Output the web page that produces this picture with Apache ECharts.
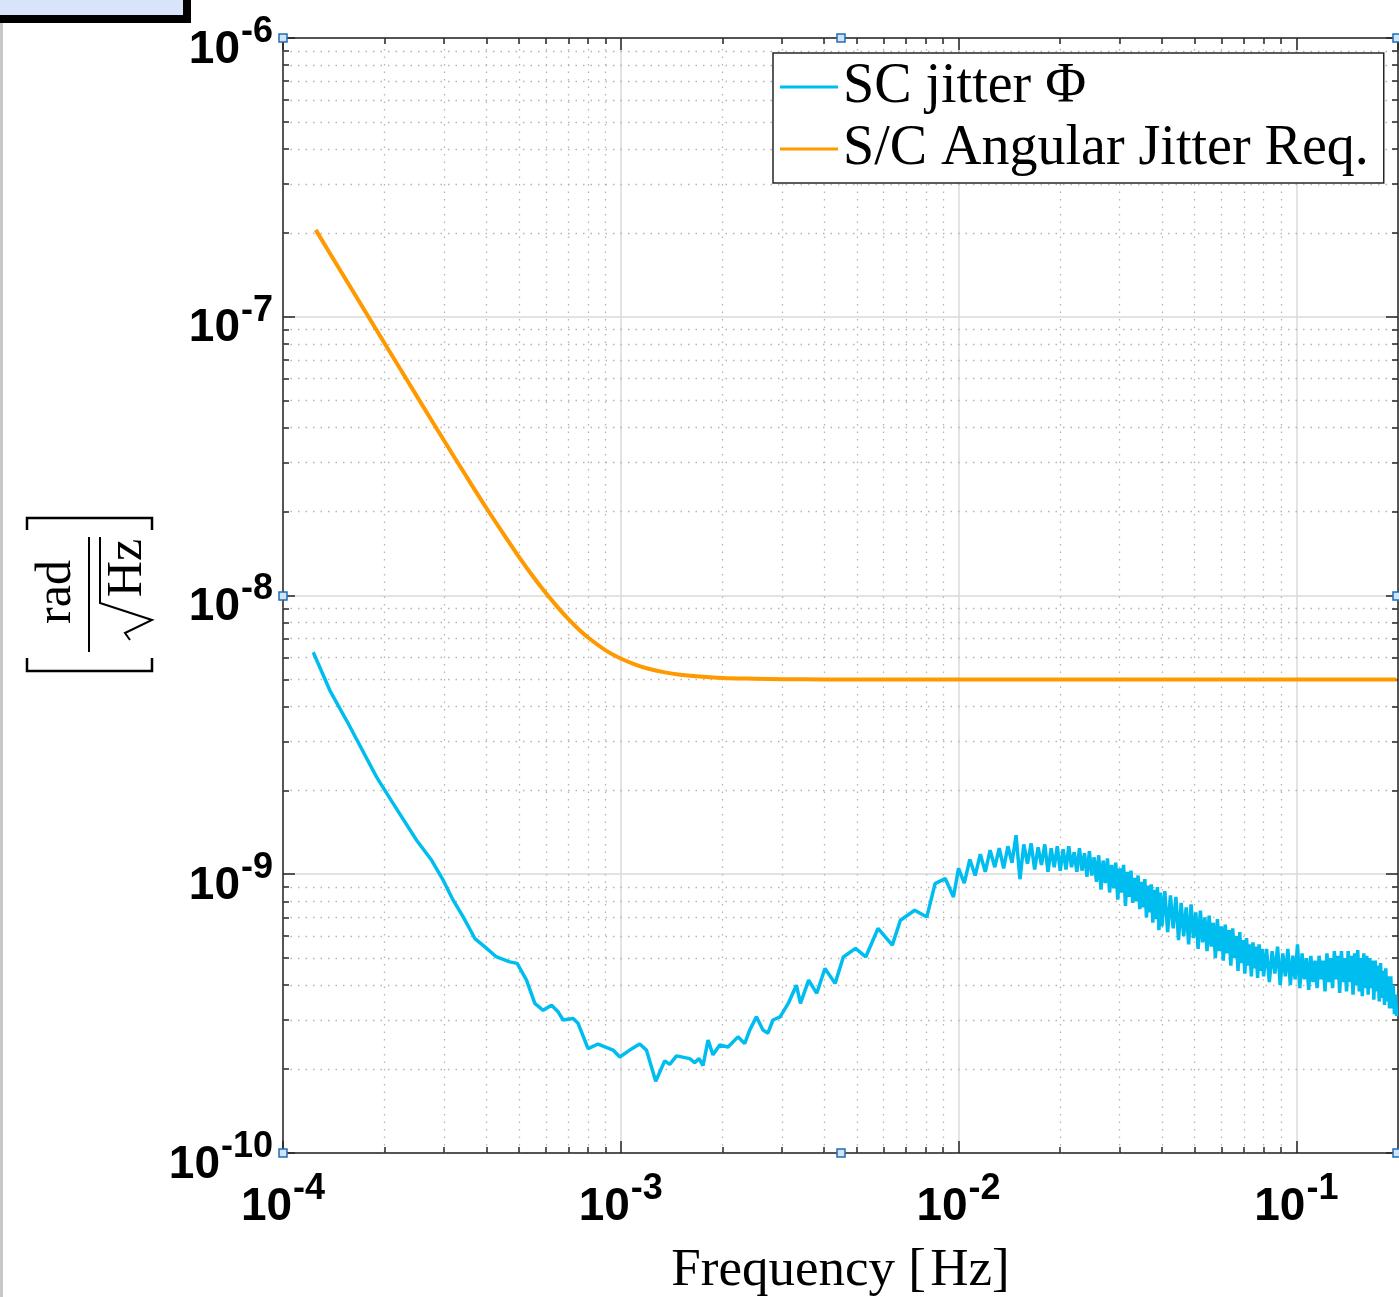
<!DOCTYPE html>
<html>
<head>
<meta charset="utf-8">
<script src="https://cdn.jsdelivr.net/npm/echarts@6/dist/echarts.min.js"></script>
<style>
  html, body { margin: 0; padding: 0; background: #fff; }
  #chart { width: 1399px; height: 1297px; }
</style>
</head>
<body>
<div id="chart"></div>
<script>
// ---------------- DATA ----------------
// SC jitter Φ : frequency in mHz, amplitude in units of 1e-10 rad/√Hz
const jitterFreq_mHz = [
  0.1229,0.1377,0.1543,0.1893,0.2120,0.2486,0.2754,0.2980,0.3190,0.3415,0.3699,0.3960,0.4288,0.4694,0.4933,0.5260,
  0.5565,0.5890,0.6237,0.6523,0.6751,0.7226,0.7474,0.8003,0.8567,0.9489,0.9932,1.063,1.138,1.191,1.269,1.349,1.396,
  1.462,1.600,1.655,1.705,1.752,1.813,1.875,1.963,2.078,2.223,2.327,2.408,2.521,2.636,2.726,2.822,2.962,3.132,3.310,
  3.404,3.599,3.804,4.022,4.311,4.559,4.955,5.311,5.774,6.366,6.727,7.417,8.057,8.521,9.134,9.659,
  10.0,10.4,10.8,11.2,11.6,12.0,12.4,12.8,13.2,13.6,14.0,14.4,14.8,15.2,15.6,16.0,16.4,16.8,17.2,17.6,18.0,18.4,18.8,19.2,19.6,
  20.0,20.4,20.8,21.2,21.6,22.0,22.4,22.8,23.2,23.6,24.0,24.4,24.8,25.2,25.6,26.0,26.4,26.8,27.2,27.6,28.0,28.4,28.8,29.2,29.6,
  30.0,30.4,30.8,31.2,31.6,32.0,32.4,32.8,33.2,33.6,34.0,34.4,34.8,35.2,35.6,36.0,36.4,36.8,37.2,37.6,38.0,38.4,38.8,39.2,39.6,
  40.0,40.8,41.6,42.4,43.2,44.0,44.8,45.6,46.4,47.2,48.0,48.8,49.6,50.4,51.2,52.0,52.8,53.6,54.4,55.2,56.0,56.8,57.6,58.4,59.2,
  60.0,60.8,61.6,62.4,63.2,64.0,64.8,65.6,66.4,67.2,68.0,68.8,69.6,70.4,71.2,72.0,72.8,73.6,74.4,75.2,76.0,76.8,77.6,78.4,79.2,
  80.0,81.6,83.2,84.8,86.4,88.0,89.6,91.2,92.8,94.4,96.0,97.6,99.2,100.8,102.4,104.0,105.6,107.2,108.8,110.4,112.0,113.6,115.2,116.8,118.4,
  120.0,121.6,123.2,124.8,126.4,128.0,129.6,131.2,132.8,134.4,136.0,137.6,139.2,140.8,142.4,144.0,145.6,147.2,148.8,150.4,152.0,153.6,155.2,156.8,158.4,
  160.0,161.6,163.2,164.8,166.4,168.0,169.6,171.2,172.8,174.4,176.0,177.6,179.2,180.8,182.4,184.0,185.6,187.2,188.8,190.4,192.0,193.6,195.2,196.8,198.0
];
const jitterVal_e10 = [
  62.6,45.6,35.6,22.3,17.92,13.24,11.22,9.52,8.07,7.03,5.88,5.49,5.05,4.85,4.79,4.17,
  3.44,3.25,3.39,3.21,3.00,3.04,2.92,2.37,2.46,2.34,2.21,2.34,2.46,2.34,1.81,2.14,2.08,
  2.23,2.18,2.11,2.18,2.06,2.54,2.25,2.44,2.40,2.61,2.47,2.76,3.08,2.76,2.69,3.00,3.08,3.44,4.00,
  3.44,4.17,3.74,4.59,4.06,5.05,5.42,5.05,6.39,5.57,6.84,7.43,7.03,9.26,9.65,8.29,
  10.5,9.3,11.3,9.9,11.8,10.2,12.2,10.6,12.4,10.5,12.6,11.0,13.8,9.6,12.8,10.9,12.9,10.4,12.5,10.8,12.8,10.2,12.4,10.6,12.6,
  10.3,12.3,10.4,12.6,10.6,12.0,10.2,12.4,10.3,11.9,9.8,12.1,9.9,11.5,9.4,11.7,8.8,11.2,9.3,11.4,8.6,10.8,8.9,11.0,8.1,
  10.5,8.6,10.8,7.7,10.2,8.3,10.3,7.9,9.7,8.0,9.9,7.5,9.4,7.6,9.6,7.0,9.1,7.3,9.2,6.7,8.8,6.9,9.0,6.3,8.6,
  6.5,8.7,6.2,8.4,6.4,8.3,5.8,7.9,6.0,7.6,5.6,7.8,5.9,7.3,5.4,7.4,5.7,7.0,5.3,7.1,5.5,6.7,5.0,6.9,5.3,
  6.5,4.9,6.6,5.2,6.3,4.7,6.4,5.0,6.0,4.5,6.2,4.8,5.8,4.4,5.9,4.7,5.6,4.3,5.7,4.6,5.5,4.25,5.6,4.5,5.4,
  4.3,5.4,4.1,5.3,4.4,5.5,4.0,5.2,4.3,5.4,4.0,5.1,4.2,5.6,3.9,5.2,4.2,5.0,3.85,5.1,4.1,4.9,3.9,5.1,4.2,
  4.9,3.8,5.2,4.1,5.0,3.9,5.3,4.2,5.1,3.75,5.3,4.1,5.0,3.8,5.3,4.1,5.1,3.7,5.2,4.0,5.35,3.8,5.0,3.65,5.2,
  3.9,5.1,3.7,5.0,3.9,4.9,3.55,4.9,3.8,4.7,3.5,4.8,3.6,4.5,3.4,4.6,3.5,4.3,3.3,4.3,3.3,4.0,3.15,3.7,3.1
];
// S/C Angular Jitter Req. : frequency in mHz, amplitude in units of 1e-9 rad/√Hz
const reqFreq_mHz = [0.125,0.15,0.2,0.25,0.3,0.35,0.4,0.45,0.5,0.55,0.6,0.65,0.7,0.75,0.8,0.9,1.0,1.1,1.2,1.35,1.5,1.75,2.0,2.5,3.0,4.0,5.0,10,50,198];
const reqVal_e9 = [204.9,142.3,80.2,51.5,35.9,26.6,20.6,16.6,13.74,11.70,10.2,9.08,8.22,7.57,7.07,6.37,5.94,5.66,5.47,5.30,5.20,5.11,5.06,5.03,5.01,5.00,5.00,5.00,5.00,5.00];

const seriesNames = ['SC jitter \u03A6', 'S/C Angular Jitter Req.'];
const xRange = [1e-4, 0.2];
const yRange = [1e-10, 1e-6];
const minorMantissas = [2,3,4,5,6,7,8,9];
const xDecades = [1e-4, 1e-3, 1e-2];
const yDecades = [1e-10, 1e-9, 1e-8, 1e-7];

// ---------------- BUILD ----------------
const jitterData = jitterFreq_mHz.map((f, i) => [f * 1e-3, jitterVal_e10[i] * 1e-10]);
const reqData = reqFreq_mHz.map((f, i) => [f * 1e-3, reqVal_e9[i] * 1e-9]);

const minorX = [], minorY = [];
xDecades.forEach(d => minorMantissas.forEach(m => minorX.push(m * d)));
yDecades.forEach(d => minorMantissas.forEach(m => minorY.push(m * d)));

const AX = '#262626';
const EPS = 1.000001;
const TICK_FY = 1.0508;  // ~6px in log-y
const TICK_FX = 1.0417;  // ~6px in log-x

const gridLines = [];
minorX.forEach(v => gridLines.push({ xAxis: v }));
minorY.forEach(v => gridLines.push({ yAxis: v }));

const minorTicks = [];
minorX.forEach(v => {
  minorTicks.push([{ coord: [v, yRange[0] * EPS] }, { coord: [v, yRange[0] * TICK_FY] }]);
  minorTicks.push([{ coord: [v, yRange[1] / EPS] }, { coord: [v, yRange[1] / TICK_FY] }]);
});
minorY.forEach(v => {
  minorTicks.push([{ coord: [xRange[0] * EPS, v] }, { coord: [xRange[0] * TICK_FX, v] }]);
  minorTicks.push([{ coord: [xRange[1] / EPS, v] }, { coord: [xRange[1] / TICK_FX, v] }]);
});

function powLabel(v) {
  const e = Math.round(Math.log10(v));
  if (Math.abs(Math.log10(v) - e) > 1e-6) return '';
  return '{b|10}{s|' + e + '}';
}
const labelRich = {
  b: { fontFamily: '"Liberation Sans", Arial, sans-serif', fontWeight: 'bold', fontSize: 46, lineHeight: 46, color: '#000', verticalAlign: 'bottom' },
  s: { fontFamily: '"Liberation Sans", Arial, sans-serif', fontWeight: 'bold', fontSize: 36, lineHeight: 36, color: '#000', verticalAlign: 'bottom', padding: [0, 0, 23, 1] }
};

const axisCommonHidden = {
  axisLine: { show: true, lineStyle: { color: AX, width: 1.5 } },
  axisTick: { show: true, inside: true, length: 12, lineStyle: { color: AX, width: 1.5 } },
  axisLabel: { show: false },
  splitLine: { show: false }
};

const handles = [[283,38],[841,38],[1397,38],[283,596],[1397,596],[283,1153],[841,1153],[1397,1153]];

const option = {
  animation: false,
  backgroundColor: '#ffffff',
  grid: { left: 283, top: 38, width: 1115, height: 1115, containLabel: false, outerBoundsMode: 'none' },
  legend: {
    data: seriesNames,
    orient: 'vertical',
    left: 773, top: 53,
    icon: 'rect',
    itemWidth: 58, itemHeight: 3, itemGap: 6,
    padding: [6, 15, 6, 7],
    backgroundColor: '#ffffff',
    borderColor: AX, borderWidth: 1.5, borderRadius: 0,
    textStyle: { fontFamily: '"Liberation Serif", "Times New Roman", serif', fontSize: 56, color: '#000' },
    selectedMode: false
  },
  xAxis: [
    {
      type: 'log', logBase: 10, min: xRange[0], max: xRange[1], position: 'bottom',
      axisLine: { show: true, lineStyle: { color: AX, width: 1.5 } },
      axisTick: { show: true, inside: true, length: 12, lineStyle: { color: AX, width: 1.5 } },
      splitLine: { show: true, lineStyle: { color: '#dadada', width: 1.5 } },
      axisLabel: { show: true, margin: 31, formatter: powLabel, rich: labelRich, showMaxLabel: false },
      name: 'Frequency [\u200AHz]', nameLocation: 'middle', nameGap: 92,
      nameTextStyle: { fontFamily: '"Liberation Serif", "Times New Roman", serif', fontSize: 53, color: '#000' }
    },
    Object.assign({ type: 'log', logBase: 10, min: xRange[0], max: xRange[1], position: 'top' }, axisCommonHidden)
  ],
  yAxis: [
    {
      type: 'log', logBase: 10, min: yRange[0], max: yRange[1], position: 'left',
      axisLine: { show: true, lineStyle: { color: AX, width: 1.5 } },
      axisTick: { show: true, inside: true, length: 12, lineStyle: { color: AX, width: 1.5 } },
      splitLine: { show: true, lineStyle: { color: '#dadada', width: 1.5 } },
      axisLabel: { show: true, margin: 10, formatter: powLabel, rich: labelRich, padding: [24, 0, 0, 0] }
    },
    Object.assign({ type: 'log', logBase: 10, min: yRange[0], max: yRange[1], position: 'right' }, axisCommonHidden)
  ],
  series: [
    {
      name: '__grid', type: 'line', data: [], silent: true, z: 1,
      markLine: {
        silent: true, symbol: ['none', 'none'], animation: false, z: 1, precision: 20,
        label: { show: false },
        lineStyle: { color: '#b4b4b4', width: 1.3, type: [1.5, 6] },
        emphasis: { disabled: true },
        data: gridLines
      }
    },
    {
      name: '__ticks', type: 'line', data: [], silent: true, z: 2,
      markLine: {
        silent: true, symbol: ['none', 'none'], animation: false, z: 2, precision: 20,
        label: { show: false },
        lineStyle: { color: AX, width: 1.5, type: 'solid' },
        emphasis: { disabled: true },
        data: minorTicks
      }
    },
    {
      name: seriesNames[0], type: 'line', data: jitterData, showSymbol: false, symbol: 'none',
      z: 10, lineStyle: { color: '#00BDEF', width: 3.5 }, itemStyle: { color: '#00BDEF' }
    },
    {
      name: seriesNames[1], type: 'line', data: reqData, showSymbol: false, symbol: 'none', smooth: 0.3,
      z: 10, lineStyle: { color: '#FF9900', width: 4 }, itemStyle: { color: '#FF9900' }
    }
  ],
  graphic: [
    { type: 'rect', shape: { x: -10, y: -10, width: 197, height: 29 }, style: { fill: '#d9e4fa', stroke: '#000', lineWidth: 8 }, z: 100 },
    { type: 'rect', shape: { x: 0, y: 23, width: 3, height: 1274 }, style: { fill: '#c8c8c8' }, z: 100 },
    {
      type: 'group', x: 90, y: 596, rotation: Math.PI / 2, z: 100,
      children: [
        { type: 'text', x: 4, y: -33, style: { text: 'rad', font: '50px "Liberation Serif"', fill: '#000', align: 'center', verticalAlign: 'middle' } },
        { type: 'line', shape: { x1: -56, y1: -1, x2: 59, y2: -1 }, style: { stroke: '#000', lineWidth: 2 } },
        { type: 'polyline', shape: { points: [[-44, 40], [-37, 35], [-24, 62], [-7, 10], [59, 10]] }, style: { stroke: '#000', fill: null, lineWidth: 2 } },
        { type: 'text', x: 28, y: 38, style: { text: 'Hz', font: '50px "Liberation Serif"', fill: '#000', align: 'center', verticalAlign: 'middle' } },
        { type: 'polyline', shape: { points: [[-62, -63], [-75, -63], [-75, 62], [-62, 62]] }, style: { stroke: '#000', fill: null, lineWidth: 2.5 } },
        { type: 'polyline', shape: { points: [[66, -63], [78, -63], [78, 62], [66, 62]] }, style: { stroke: '#000', fill: null, lineWidth: 2.5 } }
      ]
    }
  ].concat(handles.map(p => ({
    type: 'rect', shape: { x: p[0] - 4, y: p[1] - 4, width: 8, height: 8 },
    style: { fill: '#d4e3f3', stroke: '#1f6db5', lineWidth: 1.5 }, z: 100
  })))
};

const chart = echarts.init(document.getElementById('chart'), null, { renderer: 'canvas' });
chart.setOption(option);
</script>
</body>
</html>
